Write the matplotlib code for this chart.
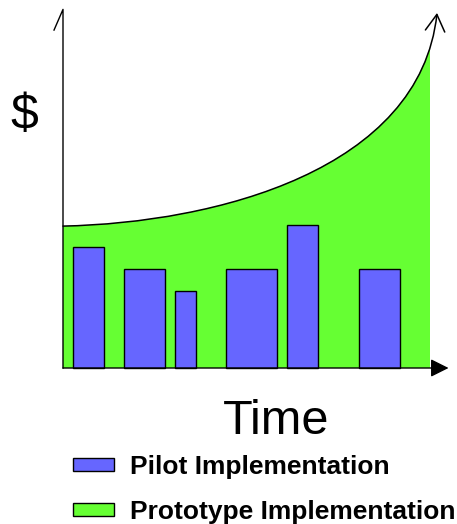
import matplotlib.pyplot as plt
import matplotlib.patches as mpatches
from matplotlib.path import Path

# pilot bars: start time, duration, cost
pilot_start = [1, 6, 11, 16, 22, 29]
pilot_width = [3, 4, 2, 5, 3, 4]
pilot_cost = [5.5, 4.5, 3.5, 4.5, 6.5, 4.5]

# prototype cost curve (cubic bezier control points)
curve_x = [0, 15, 35, 36.67]
curve_y = [6.45, 6.6, 9.0, 16.14]
prototype_end = 36

blue = '#6666FF'
green = '#66FF33'

fig = plt.figure(figsize=(4.57, 5.24), dpi=100)
ax = fig.add_axes([0, 0, 1, 1])
ax.set_xlim(-63 / 10.2, (457 - 63) / 10.2)
ax.set_ylim(-156 / 22, 368 / 22)
ax.axis('off')

# green area under the curve, cut off at the end of the prototype
verts = list(zip(curve_x, curve_y)) + [(curve_x[-1], 0), (curve_x[0], 0), (curve_x[0], curve_y[0])]
codes = [Path.MOVETO, Path.CURVE4, Path.CURVE4, Path.CURVE4, Path.LINETO, Path.LINETO, Path.CLOSEPOLY]
area = mpatches.PathPatch(Path(verts, codes), facecolor=green, edgecolor='none', zorder=1)
ax.add_patch(area)
clip = mpatches.Rectangle((0, 0), prototype_end, 20, transform=ax.transData, visible=False)
ax.add_patch(clip)
area.set_clip_path(clip)

# curve with open arrow head
curve = Path(list(zip(curve_x, curve_y)), [Path.MOVETO, Path.CURVE4, Path.CURVE4, Path.CURVE4])
arrow = mpatches.FancyArrowPatch(path=curve, arrowstyle='->,head_length=12,head_width=7',
                                 color='black', lw=1.1, zorder=4)
ax.add_patch(arrow)

bars = ax.bar(pilot_start, pilot_cost, width=pilot_width, align='edge',
              color=blue, edgecolor='black', linewidth=1.0, zorder=3)

# axes
ax.plot([-0.88, 0, 0], [15.36, 16.3, 0], color='black', lw=1.0, zorder=5)
ax.add_patch(mpatches.FancyArrowPatch((0, 0), (37.8, 0), arrowstyle='-|>,head_length=11,head_width=5.5',
                                      color='black', lw=1.0, shrinkA=0, shrinkB=0, zorder=5))

fig.text(24 / 457, 1 - 116 / 524, '$', fontsize=36, family='Liberation Sans', ha='center', va='center')
fig.text(276 / 457, 1 - 434 / 524, 'Time', fontsize=35, family='Liberation Sans', ha='center', va='baseline')

proto_handle = mpatches.Patch(facecolor=green, edgecolor='black', linewidth=1.0)
ax.legend([bars.patches[0], proto_handle], ['Pilot Implementation', 'Prototype Implementation'],
          loc='upper left', bbox_to_anchor=(73 / 457, 1 - 455 / 524), bbox_transform=fig.transFigure,
          frameon=False, borderpad=0, borderaxespad=0, handlelength=1.55, handleheight=0.36,
          handletextpad=0.6, labelspacing=0.8,
          prop={'family': 'Liberation Sans', 'weight': 'bold', 'size': 19})

fig.savefig('out.png', dpi=100)
